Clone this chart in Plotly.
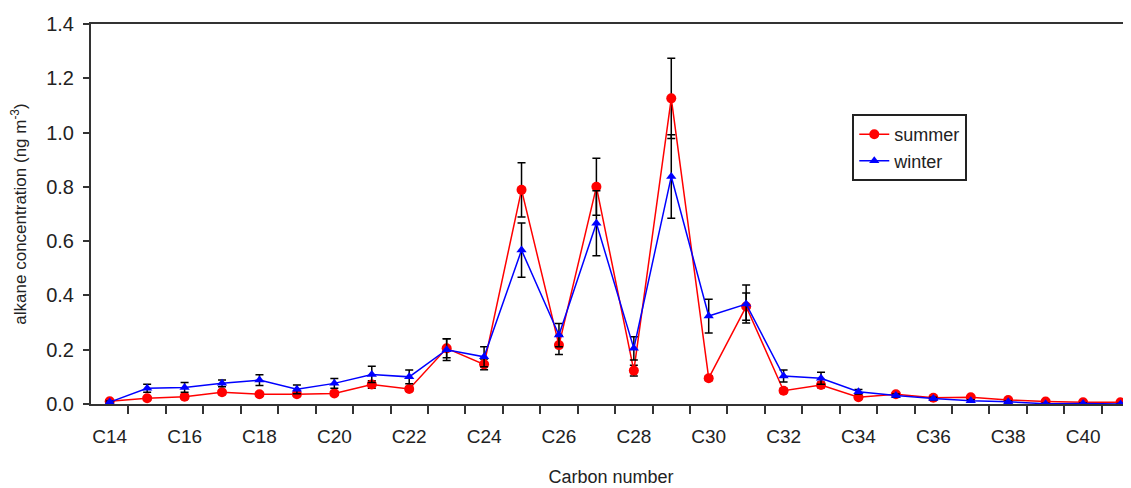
import plotly.graph_objects as go

categories = ["C%d" % n for n in range(14, 42)]

summer = [0.010, 0.021, 0.027, 0.043, 0.036, 0.036, 0.039, 0.072, 0.055, 0.205,
          0.146, 0.789, 0.217, 0.800, 0.123, 1.126, 0.095, 0.359, 0.049, 0.070,
          0.025, 0.036, 0.023, 0.025, 0.015, 0.009, 0.006, 0.006]
summer_err = [0.005, 0.005, 0.008, 0.008, 0.006, 0.006, 0.007, 0.014, 0.008, 0.035,
              0.020, 0.100, 0.035, 0.105, 0.020, 0.148, 0.008, 0.050, 0.008, 0.010,
              0.005, 0.005, 0.004, 0.004, 0.003, 0.002, 0.002, 0.002]
winter = [0.007, 0.058, 0.061, 0.076, 0.088, 0.054, 0.076, 0.109, 0.100, 0.200,
          0.174, 0.567, 0.254, 0.666, 0.205, 0.838, 0.324, 0.368, 0.103, 0.095,
          0.045, 0.031, 0.020, 0.012, 0.008, 0.001, 0.002, 0.000]
winter_err = [0.004, 0.015, 0.018, 0.012, 0.020, 0.016, 0.018, 0.030, 0.025, 0.040,
              0.037, 0.100, 0.043, 0.120, 0.043, 0.154, 0.062, 0.070, 0.022, 0.022,
              0.008, 0.006, 0.005, 0.004, 0.003, 0.002, 0.002, 0.002]

y_ticks = [0.0, 0.2, 0.4, 0.6, 0.8, 1.0, 1.2, 1.4]

idx = list(range(len(categories)))
label_idx = [i for i, c in enumerate(categories) if int(c[1:]) % 2 == 0]
label_txt = [categories[i] for i in label_idx]
boundaries = [i + 0.5 for i in idx]

FONT = "Liberation Sans, Arial, sans-serif"
AXC = "#333333"

fig = go.Figure()
fig.add_trace(go.Scatter(
    x=idx, y=summer, name="summer", mode="lines+markers",
    line=dict(color="#FF0000", width=1.5),
    marker=dict(symbol="circle", size=10, color="#FF0000"),
    error_y=dict(type="data", array=summer_err, color="black", thickness=1.5, width=4),
))
fig.add_trace(go.Scatter(
    x=idx, y=winter, name="winter", mode="lines+markers",
    line=dict(color="#0000FF", width=1.5),
    marker=dict(symbol="triangle-up", size=9, color="#0000FF"),
    error_y=dict(type="data", array=winter_err, color="black", thickness=1.5, width=4),
))

# page body has an 8px default margin: figure is 8px smaller and offset
fig.update_layout(
    width=1123, height=480,
    margin=dict(l=83, r=0, t=16, b=84),
    paper_bgcolor="white", plot_bgcolor="white",
    font=dict(family=FONT, color="#222222", size=18),
    showlegend=True,
    legend=dict(
        x=0.732, y=0.763, xanchor="left", yanchor="top",
        bgcolor="white", bordercolor="#222222", borderwidth=2,
        font=dict(size=18, family=FONT),
        tracegroupgap=0, itemwidth=30,
    ),
    xaxis=dict(
        range=[-0.5, 27.28],
        tickmode="array", tickvals=label_idx, ticktext=label_txt,
        ticks="outside", ticklen=14, tickcolor="rgba(0,0,0,0)",
        tickfont=dict(size=19, family=FONT),
        minor=dict(tickmode="array", tickvals=boundaries, ticks="outside",
                   ticklen=8, tickwidth=2, tickcolor=AXC),
        showline=True, linecolor=AXC, linewidth=2, mirror=True,
        showgrid=False, zeroline=False,
        title=dict(text="Carbon number", font=dict(size=18, family=FONT), standoff=25),
    ),
    yaxis=dict(
        range=[0, 1.4],
        tickmode="array", tickvals=y_ticks, ticktext=["%.1f" % v for v in y_ticks],
        ticks="outside", ticklen=6, tickwidth=2, tickcolor=AXC,
        ticklabelstandoff=5,
        tickfont=dict(size=20, family=FONT),
        showline=True, linecolor=AXC, linewidth=2,
        showgrid=False, zeroline=False,
        title=dict(text="alkane concentration (ng m<sup>-3</sup>)",
                   font=dict(size=17, family=FONT), standoff=20),
    ),
)

fig.write_html("out.html")
